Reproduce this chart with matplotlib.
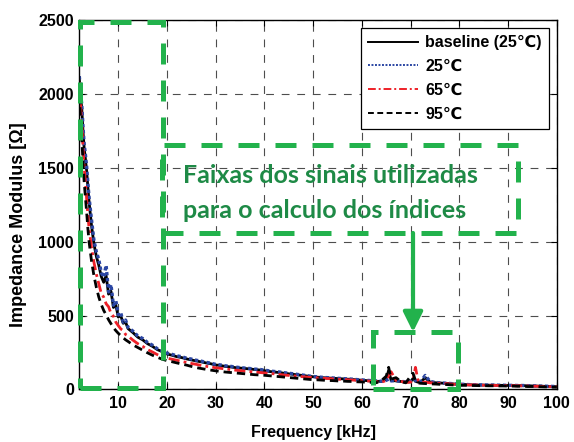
import matplotlib
matplotlib.use("Agg")
import matplotlib.pyplot as plt
from matplotlib.patches import Rectangle

# ---------------- data ----------------
freq_khz = [2.0, 2.25, 2.5, 2.75, 3.0, 3.25, 3.5, 3.75, 4.0,
            4.5, 5.0, 5.5, 6.0, 6.5, 7.0, 7.5, 8.0, 8.5, 9.0, 9.5, 10, 10.5, 11, 11.5, 12,
            13, 14, 15, 16, 17, 18, 19, 20, 21, 22, 23, 24, 25, 26, 27, 28, 29, 30, 31, 32, 33, 34,
            35, 36, 37, 38, 39, 40, 41, 42, 43, 44, 45, 46, 47, 48, 49, 50, 51, 52, 53, 54, 55, 56,
            57, 58, 59, 60,
            61, 62, 63, 64, 65, 65.5, 66, 67, 68, 69, 70, 70.5, 71, 71.5, 72, 73, 74, 75,
            76, 77, 78, 79, 80, 81, 82, 83, 84, 85, 86, 87, 88, 89, 90, 91, 92, 93, 94, 95, 96, 97,
            98, 99, 100]

baseline_25 = [2100, 1990, 1900, 1750, 1630, 1560, 1480, 1370, 1270,
               1110, 985, 900, 840, 765, 725, 770, 645, 665, 555, 570, 490, 500, 448, 455, 412,
               385, 354, 336, 310, 292, 270, 256, 240, 232, 222, 216, 207, 200, 193, 187, 180, 174, 166, 162, 156, 153, 148,
               145, 142, 139, 135, 132, 127, 122, 118, 115, 110, 106, 102, 98, 94, 90, 86, 83, 80, 78, 76, 74, 72,
               70, 68, 65, 63,
               60, 58, 56, 54, 70, 130, 62, 58, 54, 50, 52, 75, 55, 50, 48, 80, 50, 46,
               44, 42, 40, 37, 35, 34, 32, 31, 30, 30, 29, 29, 28, 28, 27, 27, 26, 26, 25, 24, 23, 22,
               21, 20, 19]

temp_25 = [2120, 2010, 1930, 1780, 1660, 1590, 1510, 1400, 1300,
           1150, 1010, 930, 880, 790, 760, 840, 660, 710, 570, 600, 505, 520, 455, 470, 420,
           395, 362, 345, 318, 300, 276, 262, 246, 238, 228, 222, 212, 206, 198, 192, 184, 178, 170, 166, 160, 157, 152,
           148, 145, 142, 138, 136, 131, 126, 122, 119, 114, 110, 106, 101, 97, 92, 88, 85, 82, 80, 78, 76, 74,
           72, 70, 67, 65,
           62, 60, 58, 56, 62, 70, 58, 60, 55, 52, 55, 50, 62, 52, 50, 95, 55, 48,
           45, 43, 41, 38, 36, 35, 33, 32, 31, 31, 30, 30, 29, 29, 28, 28, 27, 27, 26, 25, 24, 23,
           22, 21, 20]

temp_65 = [2080, 1920, 1800, 1640, 1500, 1400, 1290, 1180, 1090,
           960, 860, 780, 715, 650, 625, 580, 560, 515, 495, 455, 432, 410, 398, 372, 362,
           334, 310, 292, 270, 254, 236, 222, 212, 205, 198, 190, 183, 176, 170, 163, 157, 152, 147, 143, 139, 135, 131,
           128, 124, 121, 118, 115, 112, 109, 106, 102, 98, 95, 92, 89, 86, 83, 80, 78, 76, 74, 72, 70, 68,
           66, 64, 62, 60,
           58, 56, 52, 50, 60, 95, 120, 62, 55, 48, 50, 60, 150, 65, 48, 50, 45, 44,
           42, 40, 38, 35, 33, 32, 31, 31, 30, 29, 28, 28, 27, 27, 26, 26, 25, 25, 24, 23, 22, 21,
           20, 19, 18]

temp_95 = [2000, 1830, 1700, 1540, 1400, 1300, 1200, 1090, 1000,
           870, 770, 690, 625, 575, 535, 505, 472, 445, 418, 398, 380, 365, 350, 336, 325,
           302, 284, 266, 248, 232, 218, 205, 195, 188, 180, 172, 165, 156, 148, 142, 136, 131, 126, 122, 118, 115, 112,
           109, 106, 103, 100, 98, 96, 93, 90, 87, 84, 81, 78, 75, 72, 69, 66, 65, 63, 61, 60, 58, 57,
           55, 54, 52, 51,
           49, 48, 46, 60, 90, 150, 70, 80, 55, 45, 90, 110, 60, 45, 42, 40, 38, 37,
           35, 34, 32, 30, 28, 28, 27, 27, 26, 26, 25, 25, 24, 24, 23, 23, 22, 22, 20, 20, 19, 18,
           17, 16, 15]

legend_labels = ["baseline (25\u2103)", "25\u2103", "65\u2103", "95\u2103"]
x_ticks = [10, 20, 30, 40, 50, 60, 70, 80, 90, 100]
y_ticks = [0, 500, 1000, 1500, 2000, 2500]
note_lines = ["Faixas dos sinais utilizadas", "para o calculo dos \u00edndices"]

assert len(freq_khz) == len(baseline_25) == len(temp_25) == len(temp_65) == len(temp_95), \
    (len(freq_khz), len(baseline_25), len(temp_25), len(temp_65), len(temp_95))

# ---------------- style ----------------
plt.rcParams['font.family'] = ['Liberation Sans', 'DejaVu Sans']
plt.rcParams['font.weight'] = 'bold'
GREEN = '#22b24c'
GREEN_TXT = '#1e8a46'
BLUE = '#2b46a3'
RED = '#ee2028'

fig = plt.figure(figsize=(5.74, 4.42), dpi=100)
ax = fig.add_axes([0.1382, 0.1188, 0.9699 - 0.1382, 0.9548 - 0.1188])

ax.plot(freq_khz, baseline_25, color='black', lw=2.0, ls='-', label=legend_labels[0])
ax.plot(freq_khz, temp_25, color=BLUE, lw=2.4, ls=(0, (1, 0.8)), label=legend_labels[1])
ax.plot(freq_khz, temp_65, color=RED, lw=2.0, ls=(0, (4, 1.5, 1, 1.5)), label=legend_labels[2])
ax.plot(freq_khz, temp_95, color='black', lw=2.0, ls=(0, (3, 1.8)), label=legend_labels[3])

ax.set_xlim(2, 100)
ax.set_ylim(0, 2500)
ax.set_xticks(x_ticks)
ax.set_yticks(y_ticks)
ax.tick_params(direction='in', top=True, right=True, length=4, width=0.8, labelsize=11.5)
ax.tick_params(axis='x', pad=5)
ax.tick_params(axis='y', pad=4)
for lab in ax.get_xticklabels() + ax.get_yticklabels():
    lab.set_fontweight('bold')
for s in ax.spines.values():
    s.set_linewidth(1.0)
ax.grid(True, color='0.3', lw=0.8, ls=(0, (7, 7)))

ax.set_xlabel("Frequency [kHz]", fontsize=11.5, fontweight='bold')
ax.set_ylabel("Impedance Modulus [\u03a9]", fontsize=13, fontweight='bold')
ax.xaxis.set_label_coords(0.4906, -0.095)
ax.yaxis.set_label_coords(-0.110, 0.445)

leg = ax.legend(loc='upper right', bbox_to_anchor=(1, 1), borderaxespad=0.5, fontsize=11.5,
                frameon=True, fancybox=False, framealpha=1, edgecolor='black',
                handlelength=3.1, handletextpad=0.45, labelspacing=0.55, borderpad=0.45)
leg.get_frame().set_linewidth(0.9)
for t in leg.get_texts():
    t.set_fontweight('bold')
for h in leg.get_lines():
    h.set_linewidth(1.4)

# ---------------- annotations ----------------
box_style = dict(fill=False, edgecolor=GREEN, lw=3.6, ls=(0, (4.2, 3.2)), clip_on=False, zorder=5)
ax.add_patch(Rectangle((2.1, 10), 19.2 - 2.1, 2486 - 10, **box_style))
ax.add_patch(Rectangle((18.97, 1059), 92.06 - 18.97, 1654 - 1059, **box_style))
ax.add_patch(Rectangle((62.3, 5), 79.7 - 62.3, 389 - 5, **box_style))

ax.annotate('', xy=(70.5, 389), xytext=(70.5, 1059),
            arrowprops=dict(arrowstyle='-|>,head_length=0.85,head_width=0.42', lw=3,
                            color=GREEN, shrinkA=0, shrinkB=0, mutation_scale=14), zorder=6)

ax.text(23.28, 1397, note_lines[0], fontsize=18, fontweight='bold', color=GREEN_TXT,
        family=['Lato', 'DejaVu Sans'], ha='left', va='baseline', zorder=7)
ax.text(23.28, 1160, note_lines[1], fontsize=18, fontweight='bold', color=GREEN_TXT,
        family=['Lato', 'DejaVu Sans'], ha='left', va='baseline', zorder=7)

fig.savefig("out.png", dpi=100)
